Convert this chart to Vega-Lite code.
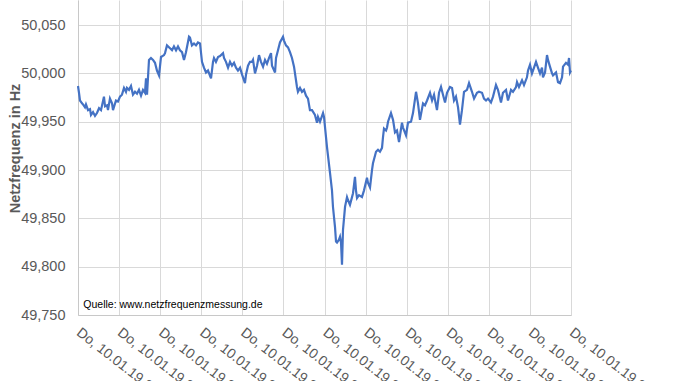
{
  "$schema": "https://vega.github.io/schema/vega-lite/v6.json",
  "width": 493,
  "height": 315,
  "autosize": {"type": "none"},
  "padding": {"left": 78, "top": 0, "right": 107, "bottom": 66},
  "background": "white",
  "config": {"view": {"stroke": null}, "font": "Liberation Sans"},
  "datasets": {
    "freq": [
      {"t":0,"f":49.987},{"t":0.12,"f":49.980},{"t":0.24,"f":49.972},{"t":0.49,"f":49.969},{"t":0.61,"f":49.968},
      {"t":0.85,"f":49.965},{"t":0.97,"f":49.968},{"t":1.22,"f":49.962},{"t":1.46,"f":49.963},{"t":1.58,"f":49.957},
      {"t":1.83,"f":49.960},{"t":2.07,"f":49.956},{"t":2.31,"f":49.959},{"t":2.56,"f":49.964},{"t":2.80,"f":49.962},
      {"t":3.16,"f":49.976},{"t":3.29,"f":49.966},{"t":3.53,"f":49.967},{"t":3.65,"f":49.962},{"t":3.89,"f":49.974},
      {"t":4.14,"f":49.969},{"t":4.26,"f":49.962},{"t":4.62,"f":49.972},{"t":4.87,"f":49.971},{"t":5.11,"f":49.976},
      {"t":5.35,"f":49.978},{"t":5.60,"f":49.985},{"t":5.84,"f":49.981},{"t":5.96,"f":49.985},{"t":6.21,"f":49.983},
      {"t":6.45,"f":49.987},{"t":6.69,"f":49.978},{"t":6.94,"f":49.981},{"t":7.18,"f":49.979},{"t":7.42,"f":49.983},
      {"t":7.67,"f":49.977},{"t":7.91,"f":49.983},{"t":8.15,"f":49.980},{"t":8.28,"f":49.995},{"t":8.40,"f":49.978},
      {"t":8.64,"f":50.014},{"t":8.88,"f":50.016},{"t":9.13,"f":50.014},{"t":9.37,"f":50.011},{"t":9.61,"f":50.003},
      {"t":9.86,"f":49.998},{"t":10.10,"f":50.017},{"t":10.47,"f":50.019},{"t":10.59,"f":50.021},{"t":10.83,"f":50.029},
      {"t":11.20,"f":50.026},{"t":11.44,"f":50.024},{"t":11.68,"f":50.028},{"t":11.93,"f":50.024},{"t":12.17,"f":50.028},
      {"t":12.41,"f":50.024},{"t":12.66,"f":50.022},{"t":12.90,"f":50.014},{"t":13.14,"f":50.022},{"t":13.51,"f":50.038},
      {"t":13.63,"f":50.037},{"t":13.87,"f":50.029},{"t":14.12,"f":50.031},{"t":14.36,"f":50.029},{"t":14.60,"f":50.032},
      {"t":14.85,"f":50.031},{"t":15.09,"f":50.012},{"t":15.33,"f":50.006},{"t":15.58,"f":50.001},{"t":15.82,"f":50.003},
      {"t":16.19,"f":49.995},{"t":16.43,"f":50.012},{"t":16.55,"f":50.016},{"t":16.79,"f":50.012},{"t":17.04,"f":50.017},
      {"t":17.28,"f":50.018},{"t":17.65,"f":50.021},{"t":17.77,"f":50.016},{"t":18.01,"f":50.012},{"t":18.26,"f":50.006},
      {"t":18.50,"f":50.012},{"t":18.74,"f":50.008},{"t":18.99,"f":50.011},{"t":19.23,"f":50.006},{"t":19.47,"f":50.003},
      {"t":19.72,"f":50.006},{"t":19.96,"f":49.999},{"t":20.32,"f":49.990},{"t":20.45,"f":49.999},{"t":20.69,"f":50.008},
      {"t":20.93,"f":50.012},{"t":21.18,"f":50.012},{"t":21.30,"f":50.014},{"t":21.54,"f":50.000},{"t":21.79,"f":50.008},
      {"t":22.03,"f":50.019},{"t":22.27,"f":50.012},{"t":22.52,"f":50.007},{"t":22.76,"f":50.014},{"t":23.00,"f":50.010},
      {"t":23.25,"f":50.016},{"t":23.49,"f":50.021},{"t":23.61,"f":50.008},{"t":23.98,"f":50.001},{"t":24.10,"f":50.016},
      {"t":24.34,"f":50.024},{"t":24.58,"f":50.032},{"t":24.95,"f":50.038},{"t":25.07,"f":50.034},{"t":25.31,"f":50.029},
      {"t":25.56,"f":50.027},{"t":25.80,"f":50.022},{"t":26.04,"f":50.016},{"t":26.29,"f":50.007},{"t":26.65,"f":49.986},
      {"t":26.77,"f":49.981},{"t":27.02,"f":49.985},{"t":27.26,"f":49.981},{"t":27.50,"f":49.983},{"t":27.75,"f":49.977},
      {"t":27.99,"f":49.974},{"t":28.23,"f":49.962},{"t":28.48,"f":49.962},{"t":28.84,"f":49.957},{"t":29.09,"f":49.949},
      {"t":29.21,"f":49.955},{"t":29.45,"f":49.950},{"t":29.82,"f":49.959},{"t":29.94,"f":49.955},{"t":30.30,"f":49.924},
      {"t":30.67,"f":49.897},{"t":30.91,"f":49.879},{"t":31.03,"f":49.862},{"t":31.28,"f":49.841},{"t":31.40,"f":49.826},
      {"t":31.52,"f":49.825},{"t":31.76,"f":49.828},{"t":31.89,"f":49.831},{"t":32.01,"f":49.825},{"t":32.13,"f":49.802},
      {"t":32.25,"f":49.838},{"t":32.50,"f":49.862},{"t":32.74,"f":49.872},{"t":32.86,"f":49.869},{"t":33.10,"f":49.864},
      {"t":33.35,"f":49.872},{"t":33.47,"f":49.876},{"t":33.71,"f":49.893},{"t":33.83,"f":49.879},{"t":33.96,"f":49.871},
      {"t":34.20,"f":49.874},{"t":34.56,"f":49.872},{"t":34.81,"f":49.879},{"t":35.17,"f":49.892},{"t":35.29,"f":49.887},
      {"t":35.54,"f":49.882},{"t":35.78,"f":49.900},{"t":35.90,"f":49.907},{"t":36.27,"f":49.919},{"t":36.51,"f":49.921},
      {"t":36.75,"f":49.919},{"t":37.00,"f":49.923},{"t":37.12,"f":49.934},{"t":37.24,"f":49.943},{"t":37.49,"f":49.941},
      {"t":37.61,"f":49.944},{"t":37.73,"f":49.950},{"t":38.09,"f":49.959},{"t":38.34,"f":49.952},{"t":38.58,"f":49.939},
      {"t":38.82,"f":49.941},{"t":39.07,"f":49.929},{"t":39.43,"f":49.949},{"t":39.55,"f":49.944},{"t":39.92,"f":49.936},
      {"t":40.16,"f":49.949},{"t":40.53,"f":49.950},{"t":40.77,"f":49.959},{"t":41.14,"f":49.981},{"t":41.38,"f":49.969},
      {"t":41.62,"f":49.952},{"t":41.99,"f":49.969},{"t":42.23,"f":49.967},{"t":42.48,"f":49.972},{"t":42.84,"f":49.980},
      {"t":43.09,"f":49.972},{"t":43.33,"f":49.978},{"t":43.69,"f":49.962},{"t":43.94,"f":49.980},{"t":44.18,"f":49.986},
      {"t":44.42,"f":49.978},{"t":44.67,"f":49.970},{"t":44.91,"f":49.980},{"t":45.27,"f":49.986},{"t":45.52,"f":49.985},
      {"t":45.76,"f":49.972},{"t":46.00,"f":49.976},{"t":46.25,"f":49.965},{"t":46.49,"f":49.947},{"t":46.73,"f":49.962},
      {"t":46.98,"f":49.981},{"t":47.34,"f":49.983},{"t":47.59,"f":49.990},{"t":47.95,"f":49.981},{"t":48.20,"f":49.974},
      {"t":48.56,"f":49.980},{"t":48.80,"f":49.981},{"t":49.17,"f":49.980},{"t":49.41,"f":49.974},{"t":49.66,"f":49.972},
      {"t":49.90,"f":49.974},{"t":50.26,"f":49.970},{"t":50.51,"f":49.976},{"t":50.87,"f":49.988},{"t":51.11,"f":49.983},
      {"t":51.48,"f":49.970},{"t":51.72,"f":49.980},{"t":52.09,"f":49.983},{"t":52.33,"f":49.972},{"t":52.70,"f":49.983},
      {"t":52.94,"f":49.981},{"t":53.31,"f":49.986},{"t":53.43,"f":49.991},{"t":53.67,"f":49.986},{"t":54.04,"f":49.993},
      {"t":54.28,"f":49.988},{"t":54.64,"f":49.996},{"t":54.77,"f":50.003},{"t":55.01,"f":50.009},{"t":55.25,"f":50.000},
      {"t":55.50,"f":50.006},{"t":55.74,"f":50.012},{"t":55.98,"f":50.006},{"t":56.23,"f":50.000},{"t":56.47,"f":50.006},
      {"t":56.59,"f":49.996},{"t":56.84,"f":50.001},{"t":57.08,"f":50.019},{"t":57.20,"f":50.014},{"t":57.44,"f":50.007},
      {"t":57.69,"f":50.000},{"t":57.81,"f":49.998},{"t":58.18,"f":50.001},{"t":58.42,"f":49.991},{"t":58.66,"f":49.990},
      {"t":58.91,"f":49.996},{"t":59.03,"f":50.007},{"t":59.39,"f":50.011},{"t":59.64,"f":50.009},{"t":59.76,"f":50.016},
      {"t":59.88,"f":50.001},{"t":60.00,"f":50.003}
    ],
    "note": [
      {"t": 0.65, "f": 49.760, "label": "Quelle: www.netzfrequenzmessung.de"}
    ]
  },
  "layer": [
    {
      "data": {"name": "freq"},
      "mark": {"type": "line", "color": "#4472C4", "strokeWidth": 2.2},
      "encoding": {
        "x": {
          "field": "t", "type": "quantitative",
          "scale": {"domain": [0, 60], "nice": false, "zero": false},
          "axis": {
            "values": [0,5,10,15,20,25,30,35,40,45,50,55,60],
            "labelExpr": "'Do, 10.01.19 ' + timeFormat(datetime(2019, 0, 10, 20, 30 + datum.value), '%H:%M')",
            "grid": true, "gridColor": "#d9d9d9", "gridWidth": 1,
            "domainColor": "#c8c8c8", "ticks": false,
            "labelAngle": 38, "labelAlign": "left", "labelBaseline": "top",
            "labelPadding": 10, "labelOffset": 4, "labelFontSize": 14, "labelColor": "#595959",
            "labelOverlap": false, "labelFlush": false, "labelBound": false,
            "title": null
          }
        },
        "y": {
          "field": "f", "type": "quantitative",
          "scale": {"domain": [49.75, 50.076], "nice": false, "zero": false},
          "axis": {
            "values": [49.75, 49.8, 49.85, 49.9, 49.95, 50.0, 50.05],
            "labelExpr": "replace(format(datum.value, '.3f'), '.', ',')",
            "grid": true, "gridColor": "#d9d9d9", "gridWidth": 1,
            "domainColor": "#c8c8c8", "ticks": false,
            "labelPadding": 13, "labelFontSize": 14.5, "labelColor": "#595959",
            "title": "Netzfrequenz in Hz",
            "titleFontSize": 14.5, "titleFontWeight": "bold", "titleColor": "#595959",
            "titleX": -63, "titleY": 148, "titleAngle": -90,
            "titleAlign": "center", "titleBaseline": "middle"
          }
        }
      }
    },
    {
      "data": {"name": "note"},
      "mark": {"type": "text", "align": "left", "baseline": "middle", "fontSize": 10.5, "color": "#000000"},
      "encoding": {
        "x": {"field": "t", "type": "quantitative"},
        "y": {"field": "f", "type": "quantitative"},
        "text": {"field": "label"}
      }
    }
  ]
}
